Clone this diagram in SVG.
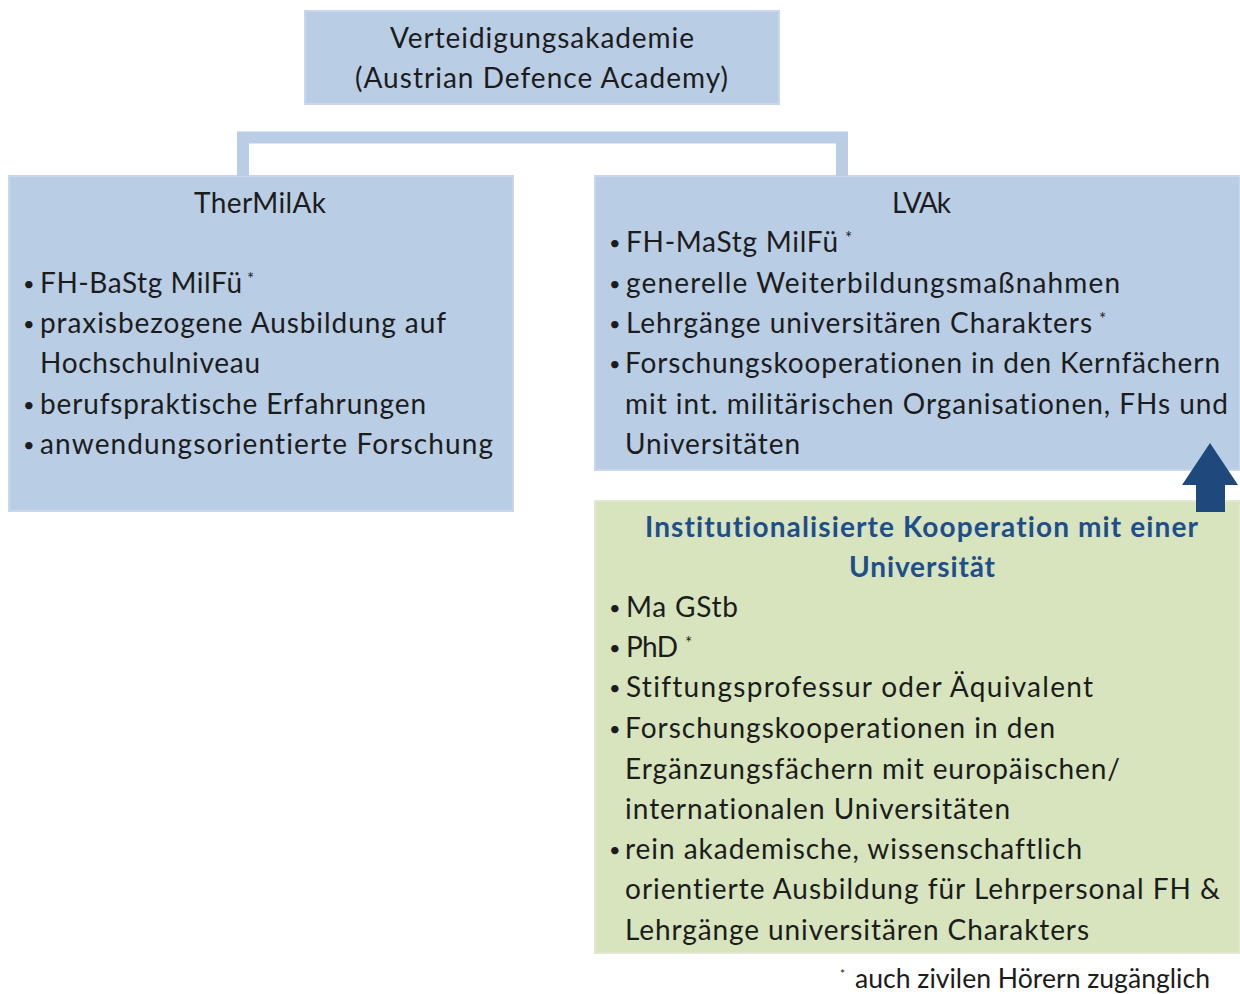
<svg xmlns="http://www.w3.org/2000/svg" width="1240" height="994" viewBox="0 0 1240 994">
<style>
.blue{fill:#b9cde5;stroke:#c8d7eb;stroke-width:2}
.green{fill:#d7e4bd;stroke:#e0e9cf;stroke-width:2}
text{font-family:Lato,"Open Sans","Liberation Sans",sans-serif;font-size:28px;fill:#1c1c1c;font-variant-ligatures:none;font-feature-settings:"liga" 0}
.c{text-anchor:middle}
.h{font-weight:bold;fill:#1f4e8c}
.b{font-size:20px}
.s{font-size:17px}
.f{font-size:27px}
</style>
<rect width="1240" height="994" fill="#ffffff"/>
<g id="node-vta">
<rect class="blue" x="305" y="11" width="474" height="93"/>
<text x="390" y="48" textLength="304" lengthAdjust="spacing">Verteidigungsakademie</text>
<text x="355" y="88" textLength="373" lengthAdjust="spacing">(Austrian Defence Academy)</text>
</g>
<g id="node-thermilak">
<rect class="blue" x="9" y="176" width="504" height="335"/>
<text x="194" y="213" textLength="132" lengthAdjust="spacing">TherMilAk</text>
<text class="b" x="23" y="291">•</text>
<text x="40" y="293" textLength="202" lengthAdjust="spacing">FH-BaStg MilFü</text>
<text class="s" x="247" y="285">*</text>
<text class="b" x="23" y="331">•</text>
<text x="40" y="333" textLength="406" lengthAdjust="spacing">praxisbezogene Ausbildung auf</text>
<text x="40" y="373" textLength="220" lengthAdjust="spacing">Hochschulniveau</text>
<text class="b" x="23" y="412">•</text>
<text x="40" y="414" textLength="386" lengthAdjust="spacing">berufspraktische Erfahrungen</text>
<text class="b" x="23" y="452">•</text>
<text x="40" y="454" textLength="453" lengthAdjust="spacing">anwendungsorientierte Forschung</text>
</g>
<g id="node-lvak">
<rect class="blue" x="595" y="176" width="645" height="294"/>
<text x="892" y="213" textLength="59" lengthAdjust="spacing">LVAk</text>
<text class="b" x="609" y="250">•</text>
<text x="626" y="252" textLength="212" lengthAdjust="spacing">FH-MaStg MilFü</text>
<text class="s" x="845" y="244">*</text>
<text class="b" x="609" y="291">•</text>
<text x="626" y="293" textLength="494" lengthAdjust="spacing">generelle Weiterbildungsmaßnahmen</text>
<text class="b" x="609" y="331">•</text>
<text x="626" y="333" textLength="466" lengthAdjust="spacing">Lehrgänge universitären Charakters</text>
<text class="s" x="1099" y="325">*</text>
<text class="b" x="609" y="371">•</text>
<text x="625" y="373" textLength="595" lengthAdjust="spacing">Forschungskooperationen in den Kernfächern</text>
<text x="625" y="414" textLength="603" lengthAdjust="spacing">mit int. militärischen Organisationen, FHs und</text>
<text x="625" y="454" textLength="175" lengthAdjust="spacing">Universitäten</text>
</g>
<g id="node-kooperation">
<rect class="green" x="595" y="501" width="645" height="452"/>
<text class="h" x="645" y="537" textLength="553" lengthAdjust="spacing">Institutionalisierte Kooperation mit einer</text>
<text class="h" x="849" y="577" textLength="146" lengthAdjust="spacing">Universität</text>
<text class="b" x="609" y="615">•</text>
<text x="626" y="617" textLength="112" lengthAdjust="spacing">Ma GStb</text>
<text class="b" x="609" y="655">•</text>
<text x="626" y="657" textLength="52" lengthAdjust="spacing">PhD</text>
<text class="s" x="685" y="649">*</text>
<text class="b" x="609" y="695">•</text>
<text x="626" y="697" textLength="467" lengthAdjust="spacing">Stiftungsprofessur oder Äquivalent</text>
<text class="b" x="609" y="736">•</text>
<text x="625" y="738" textLength="430" lengthAdjust="spacing">Forschungskooperationen in den</text>
<text x="625" y="779" textLength="495" lengthAdjust="spacing">Ergänzungsfächern mit europäischen/</text>
<text x="625" y="819" textLength="385" lengthAdjust="spacing">internationalen Universitäten</text>
<text class="b" x="609" y="857">•</text>
<text x="625" y="859" textLength="457" lengthAdjust="spacing">rein akademische, wissenschaftlich</text>
<text x="625" y="899" textLength="595" lengthAdjust="spacing">orientierte Ausbildung für Lehrpersonal FH &amp;</text>
<text x="625" y="940" textLength="464" lengthAdjust="spacing">Lehrgänge universitären Charakters</text>
</g>
<g id="footnote">
<text x="840" y="978" style="font-size:12px">*</text>
<text class="f" x="855" y="988" textLength="355" lengthAdjust="spacingAndGlyphs">auch zivilen Hörern zugänglich</text>
</g>
<g id="connectors">
<path d="M243,176 V137.5 H842 V176" fill="none" stroke="#b9cde5" stroke-width="12"/>
<path id="arrow" d="M1210,443 L1238,485 L1225,485 L1225,512 L1196,512 L1196,485 L1182,485 Z" fill="#1f497d"/>
</g>
</svg>
